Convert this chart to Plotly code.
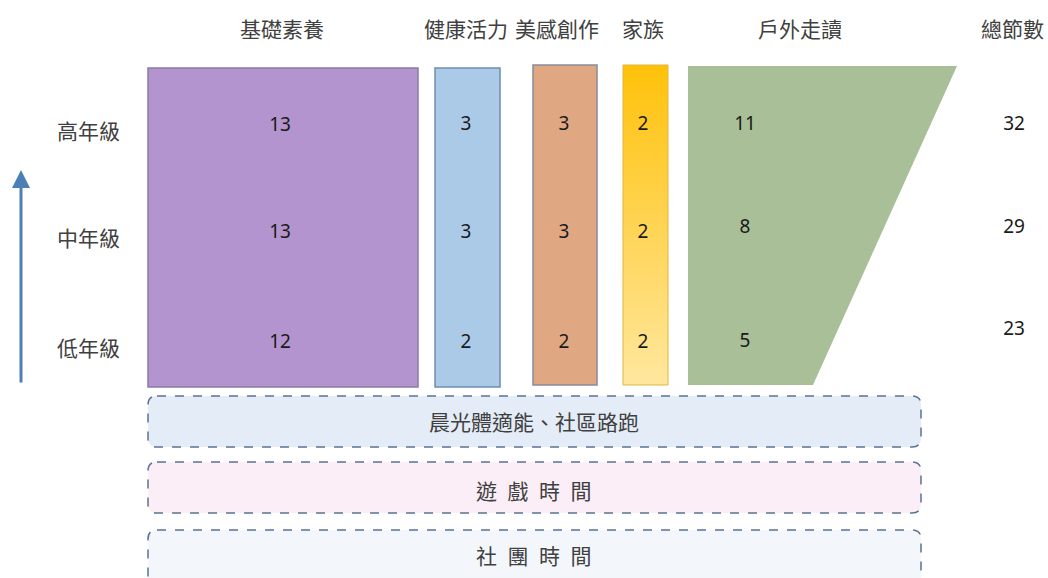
import plotly.graph_objects as go

# ---- data ----
categories = ["基礎素養", "健康活力", "美感創作", "家族", "戶外走讀"]
grades = ["高年級", "中年級", "低年級"]
basic = [13, 13, 12]
health = [3, 3, 2]
arts = [3, 3, 2]
family = [2, 2, 2]
outdoor = [11, 8, 5]
totals = [32, 29, 23]
total_label = "總節數"
bands = ["晨光體適能、社區路跑", "遊\u2002戲\u2002時\u2002間", "社\u2002團\u2002時\u2002間"]

W, H = 1048, 578
def Y(p):
    return H - p

CJK = "Noto Sans CJK TC"
NUM = "Noto Sans"

fig = go.Figure()

col_x = [280, 466, 564, 643, 745]
header_x = [282, 466, 557, 643, 800]
row_y = {0: [126, 233, 343], 1: [125, 233, 343], 2: [125, 233, 343],
         3: [125, 233, 343], 4: [125, 228, 342]}
series = [basic, health, arts, family, outdoor]

shapes = []
rects = [
    (148, 418, 68, 387, "#B394CE", "#8A7BA6"),
    (435, 500, 68, 387, "#AACAE8", "#6F8DB2"),
    (533, 597, 65, 385, "#E0A882", "#888A9A"),
]
for x0, x1, y0, y1, fc, lc in rects:
    shapes.append(dict(type="rect", xref="x", yref="y", x0=x0, x1=x1, y0=Y(y1), y1=Y(y0),
                       fillcolor=fc, line=dict(color=lc, width=1.5), layer="below"))

fig.add_trace(go.Scatter(
    x=[623, 668, 668, 623, 623], y=[Y(65), Y(65), Y(385), Y(385), Y(65)],
    mode="lines", fill="toself",
    fillgradient=dict(type="vertical", colorscale=[[0, "#FFE79E"], [1, "#FFC10A"]]),
    line=dict(color="#E0B540", width=1), hoverinfo="skip", showlegend=False))

fig.add_trace(go.Scatter(
    x=[688, 957, 813, 688, 688], y=[Y(66), Y(66), Y(385), Y(385), Y(66)],
    mode="lines", fill="toself", fillcolor="#A8BF98",
    line=dict(color="#A8BF98", width=0), hoverinfo="skip", showlegend=False))

def rounded(x0, x1, y0, y1, r=9):
    a, b = Y(y0), Y(y1)
    return (f"M {x0+r},{a} L {x1-r},{a} Q {x1},{a} {x1},{a-r} L {x1},{b+r} "
            f"Q {x1},{b} {x1-r},{b} L {x0+r},{b} Q {x0},{b} {x0},{b+r} "
            f"L {x0},{a-r} Q {x0},{a} {x0+r},{a} Z")

band_geo = [(396, 447, "#E4ECF7"), (462, 513, "#FBEEF6"), (530, 600, "#F3F7FC")]
band_text_y = [421, 490, 555]
for (y0, y1, fc) in band_geo:
    shapes.append(dict(type="path", xref="x", yref="y", path=rounded(148, 921, y0, y1),
                       fillcolor=fc, line=dict(color="#5B7392", width=1.5, dash="dash"),
                       layer="below"))

for ci, vals in enumerate(series):
    fig.add_trace(go.Scatter(
        x=[col_x[ci]] * len(vals), y=[Y(v) for v in row_y[ci]],
        mode="text", text=[str(v) for v in vals],
        textfont=dict(family=NUM, size=19, color="#1A1A1A"),
        hoverinfo="skip", showlegend=False))

fig.add_trace(go.Scatter(
    x=[1014] * 3, y=[Y(125), Y(228), Y(330)], mode="text",
    text=[str(v) for v in totals], textfont=dict(family=NUM, size=19, color="#1A1A1A"),
    hoverinfo="skip", showlegend=False))

annotations = []
for name, hx in zip(categories, header_x):
    annotations.append(dict(x=hx, y=Y(28), text=name, showarrow=False,
                            font=dict(family=CJK, size=21, color="#404040")))
annotations.append(dict(x=1012, y=Y(28), text=total_label, showarrow=False,
                        font=dict(family=CJK, size=21, color="#404040")))
for g, gy in zip(grades, [130, 237, 347]):
    annotations.append(dict(x=88, y=Y(gy), text=g, showarrow=False,
                            font=dict(family=CJK, size=21, color="#404040")))
for t, ty in zip(bands, band_text_y):
    annotations.append(dict(x=534, y=Y(ty), text=t, showarrow=False,
                            font=dict(family=CJK, size=21, color="#404040")))

annotations.append(dict(x=21, y=Y(170), ax=21, ay=Y(384), xref="x", yref="y",
                        axref="x", ayref="y", text="", showarrow=True,
                        arrowhead=2, arrowsize=1.2, arrowwidth=3, arrowcolor="#4C7FB8"))

fig.update_layout(
    width=W, height=H, margin=dict(l=0, r=0, t=0, b=0),
    paper_bgcolor="white", plot_bgcolor="white",
    xaxis=dict(range=[0, W], visible=False, fixedrange=True),
    yaxis=dict(range=[0, H], visible=False, fixedrange=True),
    shapes=shapes, annotations=annotations, showlegend=False,
)
fig.write_html("out.html", config={"displayModeBar": False},
               post_script="document.body.style.margin='0';document.body.style.overflow='hidden';")
